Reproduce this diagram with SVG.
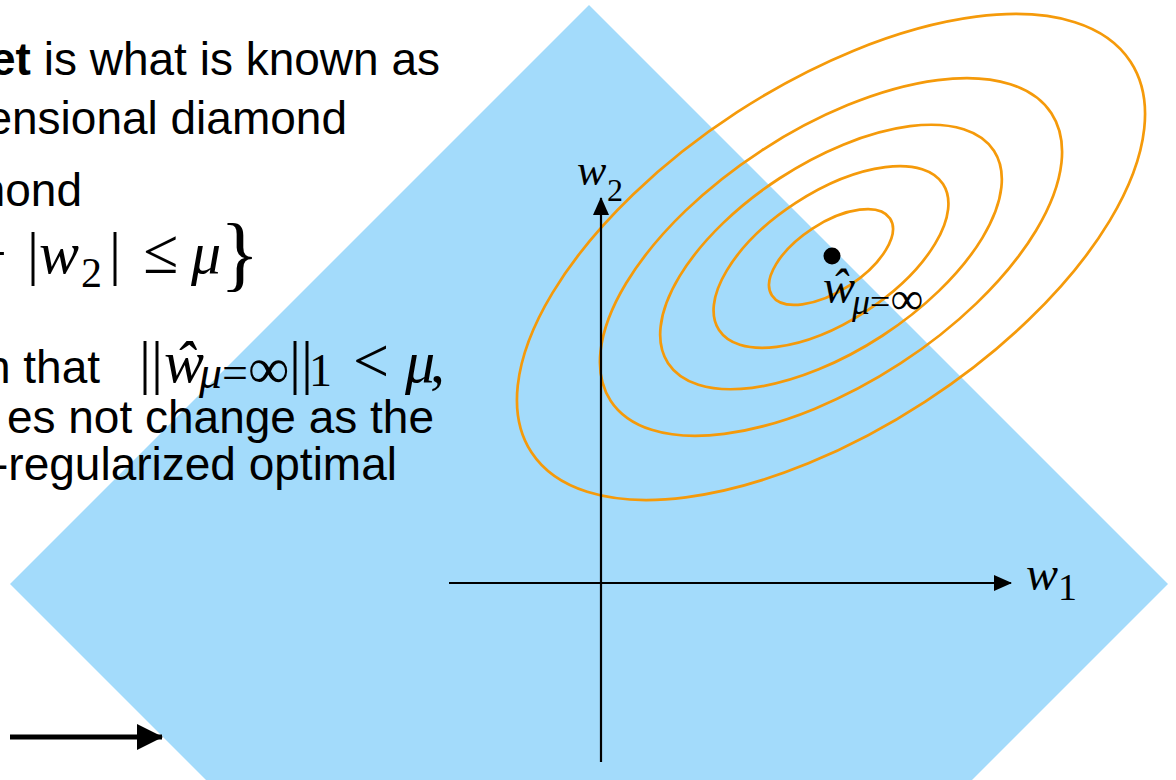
<svg xmlns="http://www.w3.org/2000/svg" width="1176" height="780" viewBox="0 0 1176 780">
  <defs>
    <style>
      .sans { font-family: "Liberation Sans", Arial, Helvetica, sans-serif; font-size: 46px; fill: #000; }
      .math { font-family: "Liberation Serif", "Times New Roman", serif; fill: #000; }
      .it { font-style: italic; }
      .contour { fill: none; stroke: #F59A0A; stroke-width: 2.7; }
      .axis { stroke: #000; stroke-width: 2.2; fill: none; }
    </style>
    <marker id="axHead" viewBox="0 0 18 16" refX="17" refY="8" markerWidth="18" markerHeight="16" markerUnits="userSpaceOnUse" orient="auto">
      <path d="M0,0 L18,8 L0,16 Z" fill="#000"/>
    </marker>
    <marker id="bigHead" viewBox="0 0 26 26" refX="25" refY="13" markerWidth="26" markerHeight="26" markerUnits="userSpaceOnUse" orient="auto">
      <path d="M0,0 L26,13 L0,26 Z" fill="#000"/>
    </marker>
  </defs>
  <rect width="1176" height="780" fill="#FFFFFF"/>

  <g id="constraint-diamond">
    <polygon points="589,5 1168,584 589,1163 10,584" fill="#A3DBFB"/>
  </g>

  <g id="text-block">
    <text class="sans" x="440" y="75" text-anchor="end"><tspan font-weight="bold">et</tspan> is what is known as</text>
    <text class="sans" x="347" y="134" text-anchor="end">ensional diamond</text>
    <text class="sans" x="82" y="206" text-anchor="end">mond</text>
    <text class="math" font-size="60" y="273">
      <tspan x="-27">+</tspan><tspan x="27">|</tspan><tspan x="39" class="it">w</tspan><tspan x="81" y="287" font-size="42">2</tspan><tspan x="109" y="273">|</tspan><tspan x="143" font-size="64">≤</tspan><tspan x="191" class="it">μ</tspan><tspan x="220" y="281" font-size="82">}</tspan>
    </text>
    <text class="sans" x="100" y="383" text-anchor="end">n that</text>
    <text class="math" font-size="60" y="382">
      <tspan x="139">||</tspan><tspan x="164" class="it">ŵ</tspan><tspan x="199" y="388" font-size="46" class="it">μ</tspan><tspan font-size="46" y="388">=</tspan><tspan font-size="58" y="388">∞</tspan><tspan x="289" y="382">||</tspan><tspan x="309" y="386" font-size="46">1</tspan><tspan x="353" y="382" font-size="64">&lt;</tspan><tspan x="405" class="it">μ</tspan><tspan x="430">,</tspan>
    </text>
    <text class="sans" x="434" y="433" text-anchor="end">es not change as the</text>
    <text class="sans" x="397" y="480" text-anchor="end">-regularized optimal</text>
  </g>

  <g id="contours" transform="translate(831,257) rotate(-33.1)">
    <ellipse class="contour" cx="0" cy="0" rx="357.6" ry="172.6"/>
    <ellipse class="contour" cx="0" cy="0" rx="263.1" ry="127.1"/>
    <ellipse class="contour" cx="0" cy="0" rx="194.5" ry="94"/>
    <ellipse class="contour" cx="0" cy="0" rx="133.7" ry="64.6"/>
    <ellipse class="contour" cx="0" cy="0" rx="70.5" ry="34"/>
  </g>

  <g id="connectors">
    <line class="axis" x1="601" y1="762" x2="601" y2="198" marker-end="url(#axHead)"/>
    <line class="axis" x1="449" y1="583" x2="1011" y2="583" marker-end="url(#axHead)"/>
    <line x1="10" y1="737" x2="162" y2="737" stroke="#000" stroke-width="5" marker-end="url(#bigHead)"/>
  </g>

  <g id="optimum">
    <circle cx="832" cy="256" r="8.5" fill="#000"/>
    <text class="math" font-size="48" y="303"><tspan x="823" class="it">ŵ</tspan><tspan x="852" y="314" font-size="36" class="it">μ</tspan><tspan y="314" font-size="36">=</tspan><tspan y="314" font-size="46">∞</tspan></text>
  </g>

  <g id="axis-labels">
    <text class="math" font-size="44" y="185"><tspan x="577" class="it">w</tspan><tspan x="607" y="201" font-size="32">2</tspan></text>
    <text class="math" font-size="48" y="590"><tspan x="1026" class="it">w</tspan><tspan x="1058" y="600" font-size="38">1</tspan></text>
  </g>
</svg>
